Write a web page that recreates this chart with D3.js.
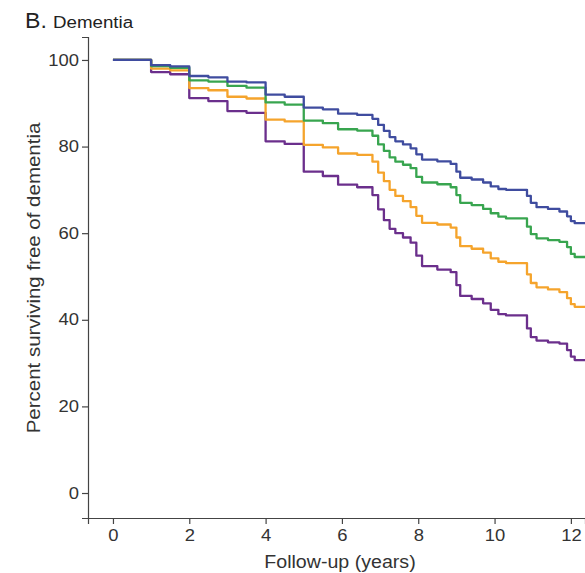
<!DOCTYPE html>
<html>
<head>
<meta charset="utf-8">
<script src="https://cdn.jsdelivr.net/npm/d3@7"></script>
<style>
  body { margin: 0; background: #fff; }
  svg { display: block; font-family: "Liberation Sans", Arial, sans-serif; }
</style>
</head>
<body>
<div id="chart"></div>
<script>
// follow-up times (years) where the curves step
var times = [0, 1, 1.5, 2, 2.5, 3, 3.5, 4, 4.5, 5, 5.5, 5.9, 6.4, 6.8, 6.95, 7.1, 7.25, 7.4, 7.6, 7.8,
  7.95, 8.1, 8.5, 8.85, 9.0, 9.1, 9.4, 9.7, 9.9, 10.1, 10.3, 10.85, 10.95, 11.1, 11.4, 11.7, 11.9, 12.0, 12.1, 12.4];

var blueVals = [100, 98.8, 98.5, 96.3, 96.0, 95.0, 94.8, 92.0, 91.5, 89.0, 88.6, 87.6, 87.3, 86.4, 85.0, 83.6, 82.2, 81.2, 80.5, 79.6,
  78.2, 77.0, 76.6, 76.0, 74.2, 72.8, 72.4, 71.7, 70.8, 70.2, 70.0, 68.6, 67.0, 66.0, 65.6, 65.0, 63.9, 62.8, 62.3, 62.3];
var greenVals = [100, 98.6, 98.2, 95.3, 95.0, 94.0, 93.6, 90.2, 89.7, 86.0, 85.4, 84.0, 83.7, 82.5, 80.5, 79.0, 77.5, 76.5, 75.8, 75.0,
  73.0, 71.7, 71.3, 70.6, 68.8, 67.0, 66.5, 65.6, 64.6, 63.8, 63.4, 61.5, 59.8, 58.8, 58.4, 58.0, 56.8, 55.2, 54.5, 54.5];
var orangeVals = [100, 98.0, 97.6, 93.5, 93.0, 91.5, 91.1, 86.2, 85.8, 80.4, 79.8, 78.4, 78.1, 76.5, 74.0, 72.0, 70.0, 68.6, 67.4, 66.0,
  64.0, 62.4, 62.0, 61.3, 59.0, 57.0, 56.4, 55.5, 54.2, 53.4, 53.1, 50.5, 48.5, 47.5, 47.0, 46.4, 45.0, 43.6, 43.0, 43.0];
var purpleVals = [100, 97.2, 96.7, 91.2, 90.5, 88.2, 87.8, 81.2, 80.6, 74.2, 73.2, 71.2, 70.6, 68.8, 65.5, 63.0, 61.0, 60.0, 59.0, 57.8,
  54.8, 52.4, 51.6, 51.0, 48.0, 45.5, 44.8, 43.8, 42.3, 41.3, 41.0, 38.0, 36.0, 35.2, 34.8, 34.5, 33.0, 31.5, 30.7, 30.7];

var xTicks = [0, 2, 4, 6, 8, 10, 12];
var yTicks = [0, 20, 40, 60, 80, 100];

var series = [
  { vals: purpleVals, color: "#6b2f8c" },
  { vals: orangeVals, color: "#f5a42c" },
  { vals: greenVals, color: "#38a54f" },
  { vals: blueVals, color: "#3f4c9f" }
];

var width = 585, height = 573;

var x = d3.scaleLinear().domain([-0.654, 12.37]).range([88, 585]);
var y = d3.scaleLinear().domain([-5.77, 105.3]).range([518, 37]);

var svg = d3.select("#chart").append("svg")
  .attr("width", width)
  .attr("height", height);

// the original lettering is a bit wider than Liberation Sans, so widen the glyphs
function stretch(sel, k) {
  sel.each(function() {
    var len = this.getComputedTextLength();
    d3.select(this).attr("textLength", len * k).attr("lengthAdjust", "spacingAndGlyphs");
  });
}

/* title */
svg.append("text").attr("x", 25).attr("y", 28).attr("fill", "#222")
  .attr("font-size", "22px").text("B.")
  .call(stretch, 1.05);
svg.append("text").attr("x", 53).attr("y", 28).attr("fill", "#222")
  .attr("font-size", "16px").text("Dementia")
  .call(stretch, 1.17);

/* curves */
var line = d3.line()
  .x(function(d) { return x(d.t); })
  .y(function(d) { return y(d.v); })
  .curve(d3.curveStepAfter);

svg.append("g").attr("fill", "none")
  .selectAll("path")
  .data(series)
  .enter()
  .append("path")
  .attr("d", function(s) { return line(times.map(function(t, i) { return { t: t, v: s.vals[i] }; })); })
  .attr("stroke", function(s) { return s.color; })
  .attr("stroke-width", 2.3)
  .attr("stroke-linejoin", "round");

/* axes */
var xAxis = d3.axisBottom(x).tickValues(xTicks).tickSizeOuter(0).tickSize(6).tickPadding(6);
var yAxis = d3.axisLeft(y).tickValues(yTicks).tickSizeOuter(0).tickSize(6).tickPadding(3);

var gx = svg.append("g")
  .attr("transform", "translate(0,518)")
  .call(xAxis);

var gy = svg.append("g")
  .attr("transform", "translate(88,0)")
  .call(yAxis);

[gx, gy].forEach(function(g) {
  g.select(".domain").attr("stroke", "#444").attr("stroke-width", 1.2);
  g.selectAll(".tick line").attr("stroke", "#444").attr("stroke-width", 1.2);
  g.selectAll(".tick text").attr("fill", "#333").attr("font-size", "16px")
    .attr("font-family", "Liberation Sans, Arial, sans-serif")
    .call(stretch, 1.15);
});

svg.append("text")
  .attr("x", 340).attr("y", 568)
  .attr("text-anchor", "middle")
  .attr("font-size", "17.5px")
  .attr("fill", "#333")
  .text("Follow-up (years)")
  .call(stretch, 1.12);

svg.append("text")
  .attr("transform", "translate(40,278) rotate(-90)")
  .attr("text-anchor", "middle")
  .attr("font-size", "17.5px")
  .attr("fill", "#333")
  .text("Percent surviving free of dementia")
  .call(stretch, 1.17);
</script>
</body>
</html>
